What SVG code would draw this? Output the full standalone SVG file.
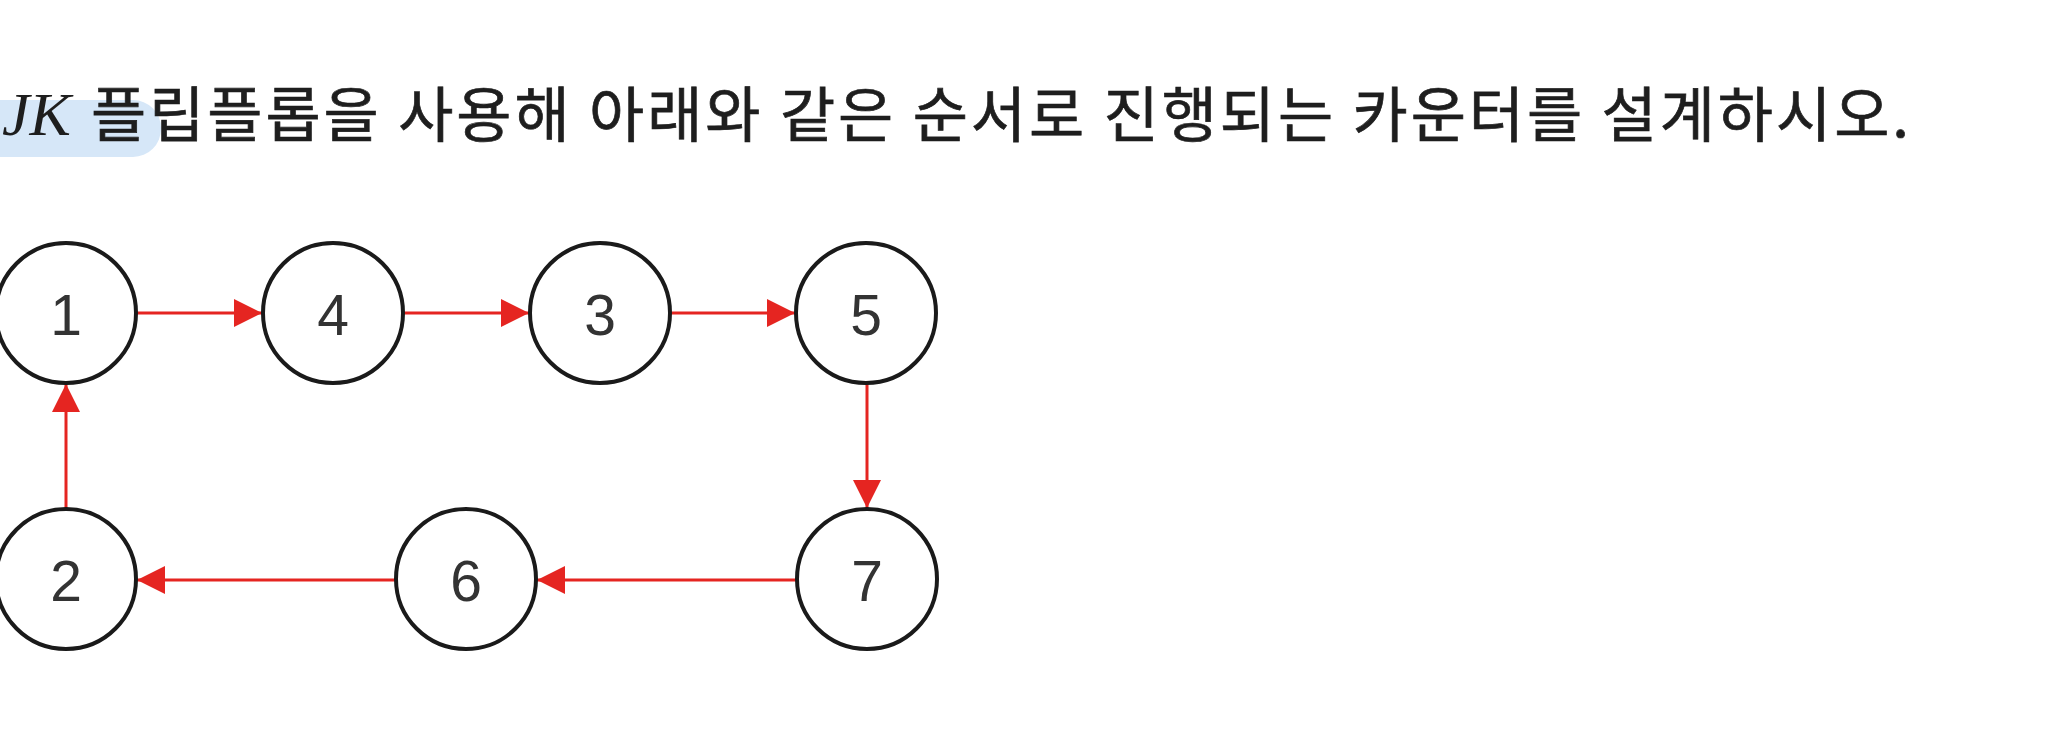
<svg xmlns="http://www.w3.org/2000/svg" width="2059" height="756" viewBox="0 0 2059 756">
<style>
.node circle{fill:#fff;stroke:#1a1a1a;stroke-width:4}
.node text{font-family:"Liberation Sans",Arial,sans-serif;font-size:57px;fill:#333;text-anchor:middle}
.edge{stroke:#e52521;stroke-width:3;fill:none;marker-end:url(#ah)}
.title{font-family:"Noto Sans CJK KR","Noto Sans",sans-serif;font-size:60px;fill:#1e1e1e;stroke:#1e1e1e;stroke-width:0.7}
</style>
<defs>
<marker id="ah" markerUnits="userSpaceOnUse" markerWidth="28" markerHeight="28" viewBox="0 0 26 26" refX="26" refY="13" orient="auto">
<path d="M0,0 L26,13 L0,26 Z" fill="#e52521"/>
</marker>
</defs>
<rect width="2059" height="756" fill="#fff"/>
<g id="title">
<rect x="-30" y="100" width="191" height="57" rx="28" fill="#d6e7f8"/>
<text x="2" y="135" font-family="'Liberation Serif','Times New Roman',serif" font-style="italic" font-size="62" fill="#1e1e1e">JK</text>
<text class="title" x="91" y="137" textLength="1818" lengthAdjust="spacing">플립플롭을 사용해 아래와 같은 순서로 진행되는 카운터를 설계하시오.</text>
</g>
<g id="connectors">
<line class="edge" x1="136" y1="313" x2="262" y2="313"/>
<line class="edge" x1="404" y1="313" x2="529" y2="313"/>
<line class="edge" x1="671" y1="313" x2="795" y2="313"/>
<line class="edge" x1="867" y1="384" x2="867" y2="508"/>
<line class="edge" x1="797" y1="580" x2="537" y2="580"/>
<line class="edge" x1="396" y1="580" x2="137" y2="580"/>
<line class="edge" x1="66" y1="508" x2="66" y2="384"/>
</g>
<g id="node1" class="node"><circle cx="66" cy="313" r="70"/><text x="66" y="335">1</text></g>
<g id="node4" class="node"><circle cx="333" cy="313" r="70"/><text x="333" y="335">4</text></g>
<g id="node3" class="node"><circle cx="600" cy="313" r="70"/><text x="600" y="335">3</text></g>
<g id="node5" class="node"><circle cx="866" cy="313" r="70"/><text x="866" y="335">5</text></g>
<g id="node2" class="node"><circle cx="66" cy="579" r="70"/><text x="66" y="601">2</text></g>
<g id="node6" class="node"><circle cx="466" cy="579" r="70"/><text x="466" y="601">6</text></g>
<g id="node7" class="node"><circle cx="867" cy="579" r="70"/><text x="867" y="601">7</text></g>
</svg>
